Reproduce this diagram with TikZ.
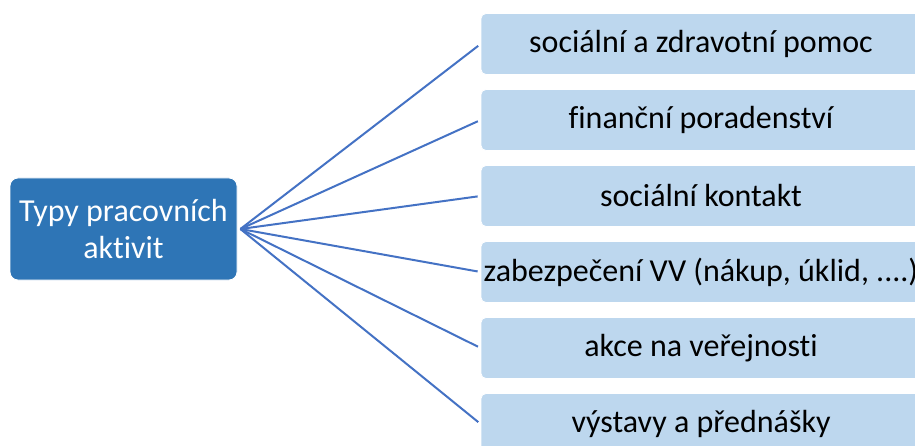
\documentclass[tikz,border=0pt]{standalone}
\usepackage{fontspec}
\setmainfont{Carlito}[Ligatures={NoCommon}]
\definecolor{rootblue}{HTML}{2E75B6}
\definecolor{leafblue}{HTML}{BDD7EE}
\definecolor{linkblue}{HTML}{4472C4}
\tikzset{
  rootbox/.style={fill=rootblue, draw=white, line width=0.8pt, rounded corners=8pt,
    minimum width=227pt, minimum height=102pt, inner sep=0pt, text=white,
    align=center, font=\fontsize{32}{37}\selectfont},
  leafbox/.style={fill=leafblue, draw=white, line width=0.8pt, rounded corners=5pt,
    minimum width=440pt, minimum height=61pt, inner sep=0pt, text=black,
    font=\fontsize{32}{37}\selectfont},
  link/.style={draw=linkblue, line width=2pt, shorten >=3pt}
}
\begin{document}
\begin{tikzpicture}[x=1pt, y=-1pt]
  \useasboundingbox (0,0) rectangle (915,446);
  \clip (0,0) rectangle (915,446);
  \node[rootbox] (root) at (123.5,229) {Typy pracovních\\aktivit};
  \coordinate (hub) at ([xshift=3pt]root.east);
  \node[leafbox] (l1) at (701,44)  {sociální a zdravotní pomoc};
  \node[leafbox] (l2) at (701,120) {finanční poradenství};
  \node[leafbox] (l3) at (701,196) {sociální kontakt};
  \node[leafbox] (l4) at (701,272) {zabezpečení VV (nákup, úklid, ....)};
  \node[leafbox] (l5) at (701,348) {akce na veřejnosti};
  \node[leafbox] (l6) at (701,424) {výstavy a přednášky};
  \foreach \n in {l1,l2,l3,l4,l5,l6}
    \draw[link] (hub) -- (\n.west);
\end{tikzpicture}
\end{document}
